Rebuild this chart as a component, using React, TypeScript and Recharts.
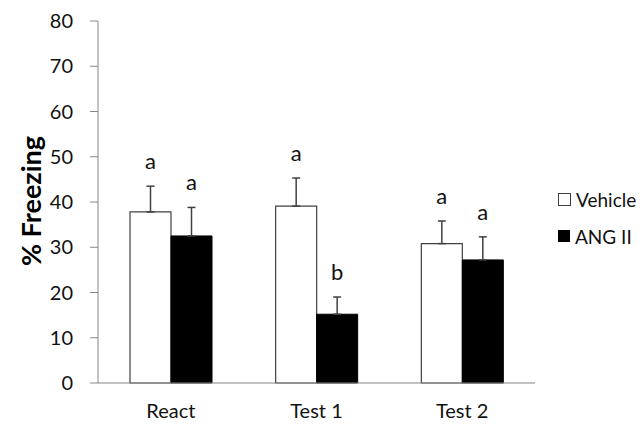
import { BarChart, Bar, XAxis, YAxis, ErrorBar, LabelList, Legend } from 'recharts'

const categories = ['React', 'Test 1', 'Test 2']
const vehicle = [37.8, 39.1, 30.8]
const vehicleErr = [5.7, 6.2, 5.0]
const angII = [32.5, 15.2, 27.2]
const angIIErr = [6.3, 3.8, 5.1]
const vehicleLetters = ['a', 'a', 'a']
const angIILetters = ['a', 'b', 'a']
const yTicks = [0, 10, 20, 30, 40, 50, 60, 70, 80]

const data = categories.map((name, i) => ({
  name,
  vehicle: vehicle[i],
  vehicleErr: [0, vehicleErr[i]],
  vehicleLetter: vehicleLetters[i],
  angII: angII[i],
  angIIErr: [0, angIIErr[i]],
  angIILetter: angIILetters[i],
}))

const FONT = 'Lato, "Open Sans", sans-serif'
const AXIS = '#868686'
const EDGE = '#404040'

const letterLabel = (vals: number[], errs: number[]) => (props: any) => {
  const vb = props.viewBox || props
  const x = props.x ?? vb.x
  const y = props.y ?? vb.y
  const width = props.width ?? vb.width
  const height = props.height ?? vb.height
  const i = props.index
  const ppu = Math.abs(height) / vals[i]
  const top = y - errs[i] * ppu
  return (
    <text x={x + width / 2} y={top - 17} textAnchor="middle" fontFamily={FONT} fontSize={22} fill="#111">
      {props.value}
    </text>
  )
}

const LegendBox = () => (
  <div style={{ fontFamily: FONT, fontSize: 19, color: '#111' }}>
    <div style={{ display: 'flex', alignItems: 'center', height: 22 }}>
      <span style={{ width: 11, height: 11, border: `1px solid ${EDGE}`, background: '#fff', marginRight: 5 }} />
      Vehicle
    </div>
    <div style={{ display: 'flex', alignItems: 'center', height: 22, marginTop: 15 }}>
      <span style={{ width: 12, height: 12, background: '#000', marginRight: 5 }} />
      ANG II
    </div>
  </div>
)

export default function App() {
  return (
    <div style={{ margin: -8, width: 644, height: 430, background: '#fff' }}>
      <BarChart
        width={644}
        height={430}
        data={data}
        margin={{ top: 21, right: 19, bottom: 17, left: 0 }}
        barGap={0}
        barCategoryGap={32}
      >
        <XAxis
          dataKey="name"
          height={30}
          stroke={AXIS}
          tickLine={false}
          tickSize={0}
          tickMargin={21}
          tick={{ fill: '#111', fontFamily: FONT, fontSize: 20 }}
        />
        <YAxis
          width={98}
          domain={[0, 80]}
          ticks={yTicks}
          interval={0}
          stroke={AXIS}
          tickSize={8}
          tickMargin={17}
          tick={{ fill: '#111', fontFamily: FONT, fontSize: 20 }}
          label={{
            content: () => (
              <text
                x={30}
                y={201}
                transform="rotate(-90 30 201)"
                textAnchor="middle"
                dominantBaseline="central"
                fontFamily={FONT}
                fontWeight="bold"
                fontSize={27}
                fill="#000"
              >
                % Freezing
              </text>
            ),
          }}
        />
        <Legend
          content={<LegendBox />}
          layout="horizontal"
          verticalAlign="middle"
          align="right"
          wrapperStyle={{ left: 558, top: 188, width: 90 }}
        />
        <Bar dataKey="vehicle" fill="#fff" stroke={EDGE} strokeWidth={1.2} barSize={41} isAnimationActive={false}>
          <ErrorBar dataKey="vehicleErr" width={4} stroke={EDGE} strokeWidth={1.5} direction="y" />
          <LabelList dataKey="vehicleLetter" content={letterLabel(vehicle, vehicleErr)} />
        </Bar>
        <Bar dataKey="angII" fill="#000" stroke="#000" barSize={41} isAnimationActive={false}>
          <ErrorBar dataKey="angIIErr" width={4} stroke={EDGE} strokeWidth={1.5} direction="y" />
          <LabelList dataKey="angIILetter" content={letterLabel(angII, angIIErr)} />
        </Bar>
      </BarChart>
    </div>
  )
}
